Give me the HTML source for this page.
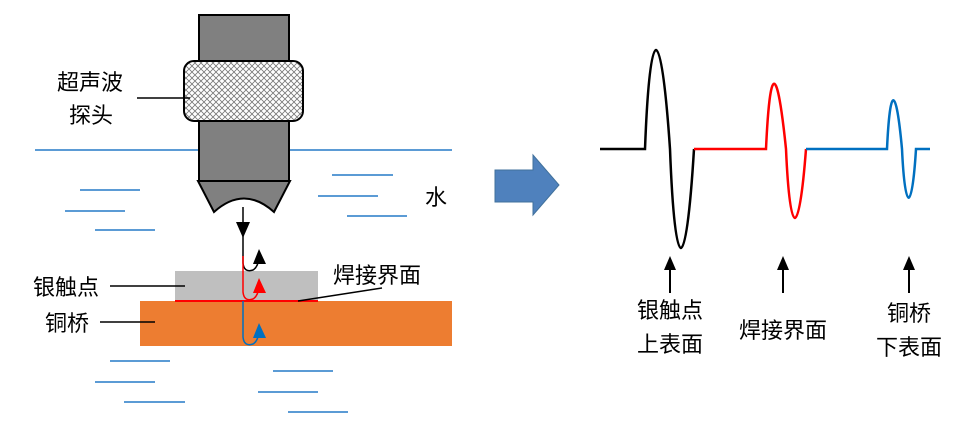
<!DOCTYPE html>
<html><head><meta charset="utf-8"><style>
html,body{margin:0;padding:0;background:#fff;}
svg{display:block}
text{font-family:"Liberation Sans","Noto Sans CJK SC",sans-serif;font-size:22px;fill:#000}
</style></head><body>
<svg width="967" height="431" viewBox="0 0 967 431" xmlns="http://www.w3.org/2000/svg">
<defs>
<pattern id="hatch" width="6" height="6" patternUnits="userSpaceOnUse">
<rect width="6" height="6" fill="#fff"/>
<path d="M0,0 L6,6 M6,0 L0,6" stroke="#777" stroke-width="0.8"/>
</pattern>
</defs>
<g stroke="#5b9bd5" stroke-width="2">
<line x1="35" y1="150" x2="452" y2="150"/>
<line x1="80" y1="190" x2="140" y2="190"/>
<line x1="65" y1="211" x2="125" y2="211"/>
<line x1="95" y1="230" x2="155" y2="230"/>
<line x1="332" y1="175" x2="393" y2="175"/>
<line x1="318" y1="196" x2="378" y2="196"/>
<line x1="347" y1="216" x2="407" y2="216"/>
<line x1="110" y1="361" x2="170" y2="361"/>
<line x1="95" y1="382" x2="155" y2="382"/>
<line x1="124" y1="402" x2="185" y2="402"/>
<line x1="273" y1="371" x2="333" y2="371"/>
<line x1="258" y1="392" x2="318" y2="392"/>
<line x1="288" y1="412" x2="348" y2="412"/>
</g>
<rect x="199" y="15" width="90" height="166" fill="#808080" stroke="#000" stroke-width="2"/>
<path d="M198,181 L290,181 L274,212 Q244,185 214,212 Z" fill="#808080" stroke="#000" stroke-width="2"/>
<rect x="184" y="61" width="119" height="60" rx="10" fill="url(#hatch)" stroke="#000" stroke-width="2"/>
<rect x="175" y="271" width="143" height="30" fill="#bfbfbf"/>
<rect x="140" y="301" width="312" height="45" fill="#ed7d31"/>
<line x1="175" y1="301" x2="318" y2="301" stroke="#f00" stroke-width="2"/>
<line x1="243" y1="207" x2="243" y2="256" stroke="#000" stroke-width="1.5"/>
<polygon points="236,222 250,222 243,238" fill="#000"/>
<path d="M243,256 L243,263 Q244,273 253,270 Q258,267 259,258" fill="none" stroke="#000" stroke-width="1.5"/>
<polygon points="253,264 266,264 259,249" fill="#000"/>
<path d="M243,256 L243,292 Q244,302 253,299 Q258,296 259,287" fill="none" stroke="#f00" stroke-width="1.5"/>
<polygon points="253,293 266,293 259,278" fill="#f00"/>
<path d="M243,301 L243,337 Q244,347 253,344 Q258,341 259,332" fill="none" stroke="#0070c0" stroke-width="1.5"/>
<polygon points="253,338 266,338 259,323" fill="#0070c0"/>
<g stroke="#000" stroke-width="1.5">
<line x1="137" y1="98" x2="190" y2="98"/>
<line x1="110" y1="286" x2="185" y2="286"/>
<line x1="100" y1="322" x2="155" y2="322"/>
<line x1="298" y1="301" x2="382" y2="288"/>
</g>
<text x="57" y="90">超声波</text>
<text x="69" y="123">探头</text>
<text x="425" y="205">水</text>
<text x="333" y="283">焊接界面</text>
<text x="33" y="295">银触点</text>
<text x="45" y="331">铜桥</text>
<path d="M495,170 L533,170 L533,155 L559,185 L533,215 L533,202 L495,202 Z" fill="#4f81bd" stroke="#41719c" stroke-width="1"/>
<path d="M600,149 L645,149 C650,17 661,17 670,149 C675,281 686,281 694,149" fill="none" stroke="#000" stroke-width="2.5"/>
<path d="M694,149 L766,149 C770,62 777,62 786,149 C790,241 799,241 806,149" fill="none" stroke="#f00" stroke-width="2.5"/>
<path d="M806,149 L887,149 C890,84 896,84 902,149 C905,214 912,214 916,149 L930,149" fill="none" stroke="#0070c0" stroke-width="2.5"/>
<g stroke="#000" stroke-width="2">
<line x1="670" y1="293" x2="670" y2="266"/>
<line x1="783" y1="293" x2="783" y2="266"/>
<line x1="909" y1="293" x2="909" y2="266"/>
</g>
<polygon points="664,270 676,270 670,256" fill="#000"/>
<polygon points="777,270 789,270 783,256" fill="#000"/>
<polygon points="903,270 915,270 909,256" fill="#000"/>
<text x="670" y="318" text-anchor="middle">银触点</text>
<text x="670" y="352" text-anchor="middle">上表面</text>
<text x="783" y="338" text-anchor="middle">焊接界面</text>
<text x="909" y="321" text-anchor="middle">铜桥</text>
<text x="909" y="355" text-anchor="middle">下表面</text>
</svg>
</body></html>
